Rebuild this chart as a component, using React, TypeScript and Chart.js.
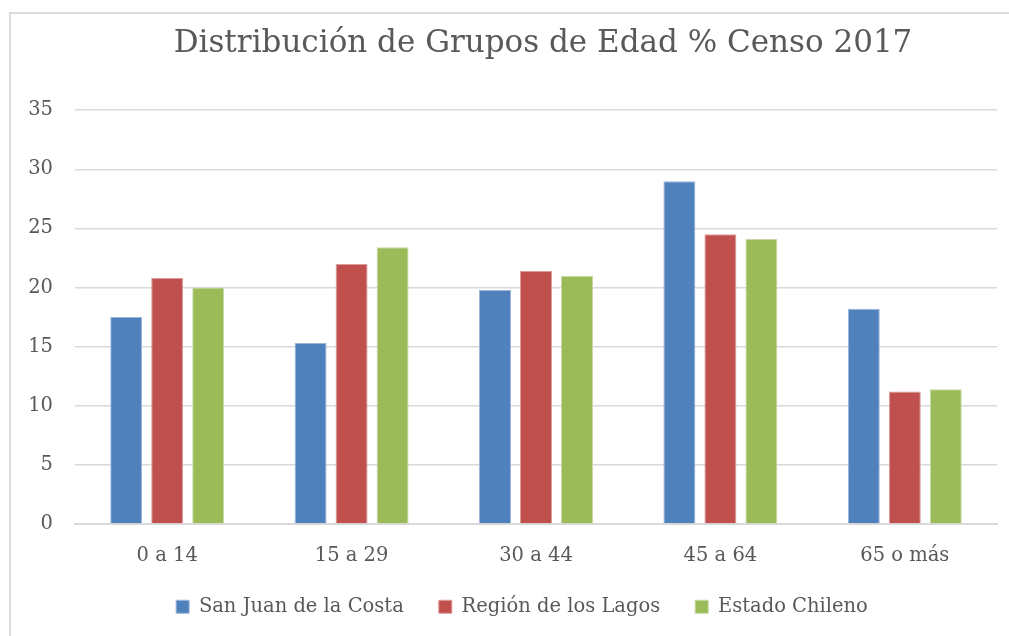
import React, { useEffect, useRef } from "react";
import { Chart, registerables } from "chart.js";

Chart.register(...registerables);

const categories = ["0 a 14", "15 a 29", "30 a 44", "45 a 64", "65 o más"];
const sanJuan = [17.5, 15.3, 19.8, 29.0, 18.2];
const regionLagos = [20.8, 22.0, 21.4, 24.5, 11.2];
const estadoChileno = [20.0, 23.4, 21.0, 24.1, 11.4];
const yTicks = [0, 5, 10, 15, 20, 25, 30, 35];

const FONT = "'DejaVu Serif', serif";
const TEXT = "#595959";

const shiftPlugin = {
  id: "shiftBoxes",
  afterLayout(chart: any) {
    const t = chart.titleBlock;
    if (t) {
      t.left += 7;
      t.right += 7;
    }
    const l = chart.legend;
    if (l) {
      l.left -= 14;
      l.right -= 14;
      l.top -= 7;
      l.bottom -= 7;
    }
  },
};

export default function App() {
  const ref = useRef<HTMLCanvasElement | null>(null);
  useEffect(() => {
    if (!ref.current) return;
    const chart = new Chart(ref.current, {
      type: "bar",
      data: {
        labels: categories,
        datasets: [
          { label: "San Juan de la Costa", data: sanJuan, backgroundColor: "#4F81BD", borderColor: "#9db5da", borderWidth: 1 },
          { label: "Región de los Lagos", data: regionLagos, backgroundColor: "#C0504D", borderColor: "#dc9c9a", borderWidth: 1 },
          { label: "Estado Chileno", data: estadoChileno, backgroundColor: "#9BBB59", borderColor: "#c6d9a4", borderWidth: 1 },
        ],
      },
      plugins: [shiftPlugin],
      options: {
        responsive: false,
        animation: false,
        layout: { padding: { top: 12, left: 0, right: 12, bottom: 2.5 } },
        datasets: { bar: { categoryPercentage: 0.667, barPercentage: 0.78 } },
        scales: {
          x: {
            grid: { display: false, drawTicks: false },
            border: { display: true, color: "#d9d9d9", width: 2 },
            ticks: { color: TEXT, font: { family: FONT, size: 19.5 }, padding: 20, maxRotation: 0 },
            afterFit: (s: any) => { s.height = 45; },
          },
          y: {
            min: 0,
            max: 35,
            afterBuildTicks: (s: any) => { s.ticks = yTicks.map((v) => ({ value: v })); },
            grid: { color: "#d9d9d9", lineWidth: 1.5, drawTicks: false },
            border: { display: false },
            ticks: { color: TEXT, font: { family: FONT, size: 19.5 }, padding: 22 },
            afterFit: (s: any) => { s.width = 75; },
          },
        },
        plugins: {
          title: {
            display: true,
            text: "Distribución de Grupos de Edad % Censo 2017",
            color: TEXT,
            font: { family: FONT, size: 31, weight: "normal" },
            fullSize: false,
            padding: { top: 13, bottom: 48 },
          },
          legend: {
            position: "bottom",
            fullSize: false,
            labels: {
              color: TEXT,
              font: { family: FONT, size: 19.5 },
              boxWidth: 13,
              boxHeight: 13,
              padding: 35,
            },
          },
          tooltip: { enabled: false },
        },
      },
    });
    return () => chart.destroy();
  }, []);
  return (
    <div>
      <div
        style={{
          position: "fixed",
          left: 9,
          top: 12,
          width: 1100,
          height: 700,
          border: "2px solid #dcdcdc",
          boxSizing: "border-box",
        }}
      />
      <canvas
        ref={ref}
        width={1009}
        height={636}
        style={{ position: "fixed", left: 0, top: 0, width: 1009, height: 636 }}
      />
    </div>
  );
}
